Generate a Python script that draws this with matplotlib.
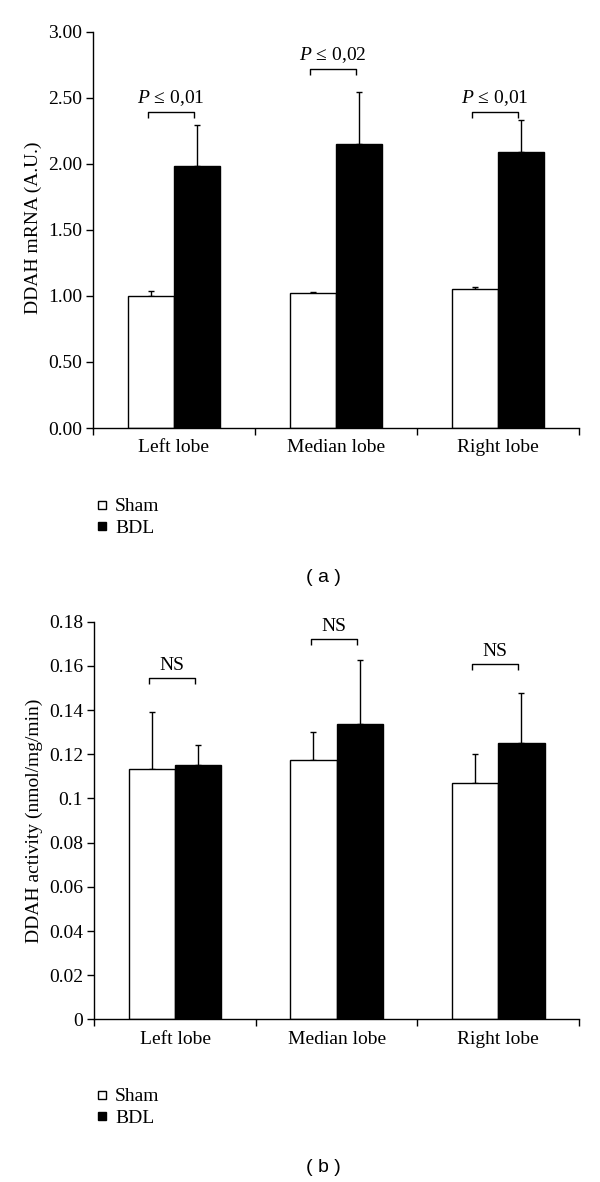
import matplotlib
matplotlib.use('Agg')
import matplotlib.pyplot as plt
from matplotlib.lines import Line2D

plt.rcParams['font.family'] = ['Liberation Serif', 'DejaVu Serif']
plt.rcParams['font.size'] = 14
plt.rcParams['mathtext.fontset'] = 'custom'
plt.rcParams['mathtext.it'] = 'Liberation Serif:italic'
plt.rcParams['mathtext.rm'] = 'Liberation Serif'

lobes = ['Left lobe', 'Median lobe', 'Right lobe']
groups = ['Sham', 'BDL']

# panel (a): DDAH mRNA
mrna_sham = [1.00, 1.02, 1.05]
mrna_sham_err = [0.04, 0.01, 0.02]
mrna_bdl = [1.98, 2.15, 2.09]
mrna_bdl_err = [0.31, 0.39, 0.24]
mrna_pvals = ['$P$ ≤ 0,01', '$P$ ≤ 0,02', '$P$ ≤ 0,01']
mrna_bracket = [2.39, 2.72, 2.39]

# panel (b): DDAH activity
act_sham = [0.1135, 0.1173, 0.1071]
act_sham_err = [0.0255, 0.0127, 0.0132]
act_bdl = [0.1153, 0.1336, 0.1251]
act_bdl_err = [0.0090, 0.0289, 0.0228]
act_pvals = ['NS', 'NS', 'NS']
act_bracket = [0.1547, 0.1720, 0.1607]

fig = plt.figure(figsize=(6, 11.82), dpi=100)


def draw_panel(ax, sham, sham_err, bdl, bdl_err, brackets, labels, ymax, step, fmt):
    w = 0.287
    x = list(range(len(lobes)))
    xs = [i - w / 2 for i in x]
    xb = [i + w / 2 for i in x]
    ax.bar(xs, sham, w, color='white', edgecolor='black', linewidth=1, zorder=2)
    ax.bar(xb, bdl, w, color='black', edgecolor='black', linewidth=1, zorder=2)
    ax.errorbar(xs, sham, yerr=[[0] * 3, sham_err], fmt='none', ecolor='black',
                elinewidth=1, capsize=2, capthick=1, zorder=1)
    ax.errorbar(xb, bdl, yerr=[[0] * 3, bdl_err], fmt='none', ecolor='black',
                elinewidth=1, capsize=2, capthick=1, zorder=1)

    # significance brackets
    drop = ymax * 0.015
    for i, (yb, lab) in enumerate(zip(brackets, labels)):
        x0, x1 = i - 0.16, i + 0.125
        ax.plot([x0, x0, x1, x1], [yb - drop, yb, yb, yb - drop],
                color='black', lw=1, solid_capstyle='butt')
        ax.text((x0 + x1) / 2, yb + ymax * 0.01, lab, ha='center', va='bottom')

    ax.set_xlim(-0.5, 2.5)
    ax.set_ylim(0, ymax)
    ticks = [step * k for k in range(int(round(ymax / step)) + 1)]
    ax.set_yticks(ticks)
    ax.set_yticklabels([fmt(t) for t in ticks])
    ax.set_xticks([-0.5, 0.5, 1.5, 2.5])
    ax.set_xticklabels([])
    ax.set_xticks(x, minor=True)
    ax.set_xticklabels(lobes, minor=True)
    ax.tick_params(axis='x', which='minor', length=0, pad=8)
    ax.tick_params(axis='x', which='major', length=5, width=1)
    ax.tick_params(axis='y', length=5, width=1, pad=3)
    for s in ['top', 'right']:
        ax.spines[s].set_visible(False)
    for s in ['left', 'bottom']:
        ax.spines[s].set_linewidth(1)


ax1 = fig.add_axes([0.155, 0.6379, 0.81, 0.3353])
draw_panel(ax1, mrna_sham, mrna_sham_err, mrna_bdl, mrna_bdl_err,
           mrna_bracket, mrna_pvals, 3.0, 0.5, lambda t: f'{t:.2f}')
ax1.set_ylabel('DDAH mRNA (A.U.)')
ax1.yaxis.set_label_coords(-0.105, 0.505)


def fmt_b(t):
    s = f'{t:.2f}'.rstrip('0')
    if s.endswith('.'):
        s = s[:-1]
    return s


ax2 = fig.add_axes([0.157, 0.1375, 0.808, 0.3366])
draw_panel(ax2, act_sham, act_sham_err, act_bdl, act_bdl_err,
           act_bracket, act_pvals, 0.18, 0.02, fmt_b)
ax2.set_ylabel('DDAH activity (nmol/mg/min)')
ax2.yaxis.set_label_coords(-0.105, 0.5)

handles = [
    Line2D([], [], marker='s', ls='', mfc='white', mec='black', ms=6, mew=1),
    Line2D([], [], marker='s', ls='', mfc='black', mec='black', ms=6, mew=1),
]
for yy in [1 - 490 / 1182, 1 - 1080 / 1182]:
    fig.legend(handles, groups, loc='upper left', bbox_to_anchor=(0.148, yy),
               frameon=False, handlelength=0.6, handletextpad=0.35,
               labelspacing=0.2, borderaxespad=0)

fig.text(323 / 600, 1 - 577 / 1182, '( a )', ha='center', va='center',
         family=['Liberation Sans', 'DejaVu Sans'], fontsize=14)
fig.text(323 / 600, 1 - 1167 / 1182, '( b )', ha='center', va='center',
         family=['Liberation Sans', 'DejaVu Sans'], fontsize=14)

fig.savefig('out.png', dpi=100)
